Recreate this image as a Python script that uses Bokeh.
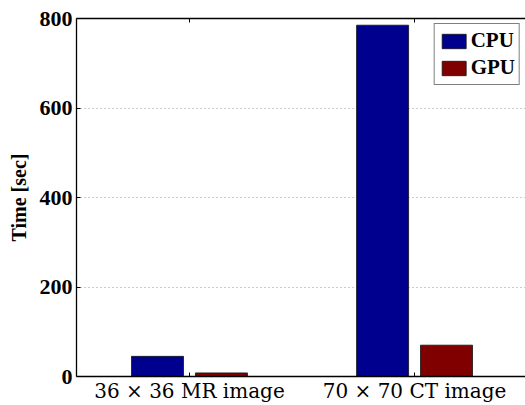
from bokeh.plotting import figure
from bokeh.models import (ColumnDataSource, LinearAxis, FixedTicker, Legend,
                          LegendItem, Range1d)
from bokeh.embed import file_html
from bokeh.resources import INLINE

# ---- data ----
groups = ["36 × 36 MR image", "70 × 70 CT image"]
cpu_time = [45, 785]
gpu_time = [8, 70]
y_ticks = [0, 200, 400, 600, 800]
series = ["CPU", "GPU"]

group_pos = [1, 2]
offset = 0.142
bar_w = 0.231

cpu_src = ColumnDataSource(dict(x=[g - offset for g in group_pos], top=cpu_time))
gpu_src = ColumnDataSource(dict(x=[g + offset for g in group_pos], top=gpu_time))

p = figure(width=525, height=405, output_backend="svg", toolbar_location=None,
           x_range=Range1d(0.498, 2.493), y_range=Range1d(0, 800),
           min_border_left=76, min_border_right=0, min_border_top=18,
           min_border_bottom=10)
p.outline_line_color = None
p.background_fill_color = "white"
p.border_fill_color = "white"

r_cpu = p.vbar(x="x", top="top", width=bar_w, source=cpu_src,
               fill_color="#00008F", line_color="#111111", line_width=0.8)
r_gpu = p.vbar(x="x", top="top", width=bar_w, source=gpu_src,
               fill_color="#800000", line_color="#111111", line_width=0.8)

# x axis
xa = p.xaxis[0]
xa.ticker = FixedTicker(ticks=group_pos)
xa.major_label_overrides = {group_pos[i]: groups[i] for i in range(len(groups))}
xa.major_label_text_font = "DejaVu Serif"
xa.major_label_text_font_size = "20px"
xa.major_label_text_color = "black"
xa.major_label_standoff = 2
xa.major_tick_in = 4
xa.major_tick_out = 0
xa.minor_tick_line_color = None
xa.axis_line_color = "black"
xa.axis_line_width = 1.3
xa.major_tick_line_color = "black"

# y axis
ya = p.yaxis[0]
ya.ticker = FixedTicker(ticks=y_ticks)
ya.major_label_text_font = "Liberation Serif"
ya.major_label_text_font_style = "bold"
ya.major_label_text_font_size = "22px"
ya.major_label_text_color = "black"
ya.major_label_standoff = 4
ya.major_tick_in = 4
ya.major_tick_out = 0
ya.minor_tick_line_color = None
ya.axis_line_color = "black"
ya.axis_line_width = 1.3
ya.major_tick_line_color = "black"
ya.axis_label = "Time [sec]"
ya.axis_label_text_font = "Liberation Serif"
ya.axis_label_text_font_style = "bold"
ya.axis_label_text_font_size = "20px"
ya.axis_label_text_color = "black"
ya.axis_label_standoff = 7

# top axis (box edge, ticks only)
top_ax = LinearAxis(ticker=FixedTicker(ticks=group_pos))
top_ax.major_label_text_color = None
top_ax.major_label_text_font_size = "8px"
top_ax.major_label_standoff = 0
top_ax.major_tick_in = 4
top_ax.major_tick_out = 0
top_ax.minor_tick_line_color = None
top_ax.axis_line_color = "black"
top_ax.axis_line_width = 1.3
top_ax.major_tick_line_color = "black"
p.add_layout(top_ax, "above")

# grid
p.xgrid.grid_line_color = None
p.ygrid.ticker = FixedTicker(ticks=[200, 400, 600])
p.ygrid.grid_line_color = "#999999"
p.ygrid.grid_line_dash = "1 3"
p.ygrid.grid_line_width = 1

legend = Legend(items=[LegendItem(label=series[0], renderers=[r_cpu]),
                       LegendItem(label=series[1], renderers=[r_gpu])],
                location="top_right")
legend.label_text_font = "Liberation Serif"
legend.label_text_font_style = "bold"
legend.label_text_font_size = "21px"
legend.label_text_color = "black"
legend.glyph_width = 30
legend.glyph_height = 18
legend.label_height = 18
legend.label_standoff = 2
legend.spacing = 2
legend.padding = 4
legend.margin = 5
legend.border_line_color = "black"
legend.border_line_width = 1
legend.background_fill_alpha = 1
p.add_layout(legend)

open("out.html", "w").write(file_html(p, INLINE))
